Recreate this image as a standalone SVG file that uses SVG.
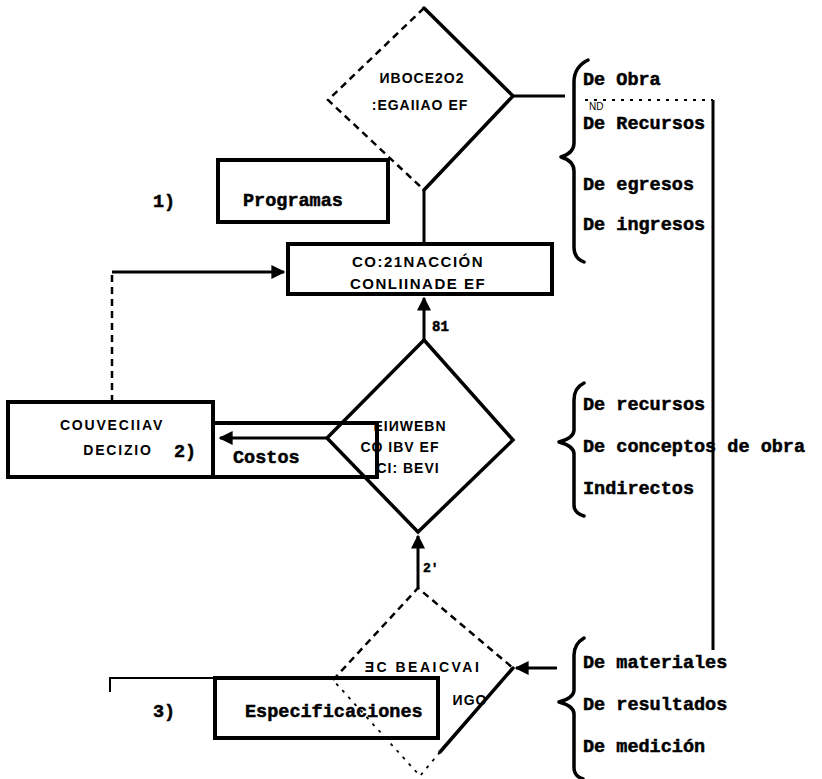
<svg xmlns="http://www.w3.org/2000/svg" width="822" height="779" viewBox="0 0 822 779">
<style>
.bx{fill:none;stroke:#000;stroke-width:4}
.dg{fill:none;stroke:#000;stroke-width:3.5;stroke-linecap:round}
.dd{fill:none;stroke:#000;stroke-width:2.5;stroke-dasharray:7 5}
.df{fill:none;stroke:#000;stroke-width:1.8;stroke-dasharray:3 6}
.ln{fill:none;stroke:#000;stroke-width:3}
.br{fill:none;stroke:#000;stroke-width:3.5;stroke-linecap:round;stroke-linejoin:round}
.t{font-family:"Liberation Mono","DejaVu Sans Mono",monospace;font-weight:bold;font-size:18.5px;fill:#000;stroke:#000;stroke-width:0.5}
.g{font-family:"Liberation Sans","DejaVu Sans",sans-serif;font-weight:bold;font-size:14px;letter-spacing:1px;fill:#000}
.h{font-family:"Liberation Sans","DejaVu Sans",sans-serif;font-size:10px;fill:#000}
</style>
<defs>
<marker id="ah" viewBox="0 0 10 10" refX="9" refY="5" markerWidth="14" markerHeight="14" markerUnits="userSpaceOnUse" orient="auto">
<path d="M0,0 L10,5 L0,10 Z" fill="#000"/>
</marker>
</defs>
<rect width="822" height="779" fill="#fff"/>

<g id="connectors">
<line class="ln" x1="424" y1="190" x2="424" y2="244"/>
<line class="ln" x1="424" y1="340" x2="424" y2="298" marker-end="url(#ah)"/>
<line class="ln" x1="418" y1="588" x2="418" y2="536" marker-end="url(#ah)"/>
<path class="dd" d="M112,402 L112,272"/>
<path class="ln" d="M112,272 L284,272" marker-end="url(#ah)"/>
<path class="ln" d="M327,438 L220,438" marker-end="url(#ah)"/>
<line class="ln" x1="513" y1="96" x2="565" y2="96"/>
<path class="df" d="M585,100 L713,100"/>
<line class="ln" x1="713" y1="100" x2="713" y2="650"/>
<line class="ln" x1="557" y1="668" x2="516" y2="668" marker-end="url(#ah)"/>
<path class="ln" d="M110,692 L110,678 L215,678" style="stroke-width:2"/>
</g>

<g id="decision-top">
<path class="dd" d="M424,8 L328,100 L424,190"/>
<path class="dg" d="M424,8 L513,96 L424,190"/>
<text class="g" x="422" y="83" text-anchor="middle">ИBOCE2O2</text>
<text class="g" x="420" y="110" text-anchor="middle">:EGAIIAO EF</text>
</g>

<g id="programas">
<text class="t" x="153" y="207">1)</text>
<rect class="bx" x="218" y="160" width="170" height="62"/>
<text class="t" x="243" y="206">Programas</text>
</g>

<g id="coordinacion">
<rect class="bx" x="288" y="244" width="264" height="50"/>
<text class="g" x="418" y="267" text-anchor="middle" style="font-size:15px;letter-spacing:1.5px">CO:21NACCIÓN</text>
<text class="g" x="418" y="289" text-anchor="middle" style="font-size:15px;letter-spacing:1.5px">CONLIINADE EF</text>
<text class="t" x="432" y="331" style="font-size:14px">81</text>
</g>

<g id="decision-middle">
<path class="dg" d="M424,340 L513,440 L418,532 L327,438 Z"/>
<text class="g" x="410" y="431" text-anchor="middle">EIИWEBN</text>
<text class="g" x="400" y="452" text-anchor="middle">CO IBV EF</text>
<text class="g" x="408" y="473" text-anchor="middle">CI: BEVI</text>
</g>

<g id="condicional">
<rect class="bx" x="8" y="402" width="205" height="75"/>
<text class="g" x="112" y="430" text-anchor="middle" style="letter-spacing:1.8px">COUVECIIAV</text>
<text class="g" x="118" y="455" text-anchor="middle" style="letter-spacing:1.8px">DECIZIO</text>
<text class="t" x="174" y="457">2)</text>
</g>

<g id="costos">
<rect class="bx" x="213" y="423" width="164" height="54"/>
<text class="t" x="233" y="463">Costos</text>
</g>

<g id="decision-bottom">
<path class="dd" d="M333,680 L418,588 L513,668"/>
<path class="dg" d="M513,668 L440,752"/>
<path class="df" d="M440,752 L420,776 L333,680"/>
<text class="g" x="423" y="672" text-anchor="middle" style="letter-spacing:2.5px">ƎC BEAICVAI</text>
<text class="g" x="470" y="705" text-anchor="middle">ИGO</text>
<text class="t" x="423" y="572" style="font-size:13px">2'</text>
</g>

<g id="especificaciones">
<text class="t" x="153" y="717">3)</text>
<rect class="bx" x="215" y="678" width="223" height="60"/>
<text class="t" x="245" y="717">Especificaciones</text>
</g>

<g id="brace-programas">
<path class="br" d="M588,60 Q574,67 574,82 L574,143 Q574,153 561,157 Q574,161 574,171 L574,248 Q574,258 584,262"/>
<text class="t" x="583" y="85">De Obra</text>
<text class="h" x="589" y="110">ND</text>
<text class="t" x="583" y="129">De Recursos</text>
<text class="t" x="583" y="190">De egresos</text>
<text class="t" x="583" y="230">De ingresos</text>
</g>

<g id="brace-costos">
<path class="br" d="M584,383 Q574,388 574,400 L574,430 Q574,438 559,442 Q574,446 574,454 L574,505 Q574,513 584,516"/>
<text class="t" x="583" y="410">De recursos</text>
<text class="t" x="583" y="452">De conceptos de obra</text>
<text class="t" x="583" y="494">Indirectos</text>
</g>

<g id="brace-especificaciones">
<path class="br" d="M584,638 Q574,644 574,655 L574,690 Q574,698 559,702 Q574,706 574,714 L574,768 Q574,776 583,779"/>
<text class="t" x="583" y="668">De materiales</text>
<text class="t" x="583" y="710">De resultados</text>
<text class="t" x="583" y="752">De medición</text>
</g>
</svg>
